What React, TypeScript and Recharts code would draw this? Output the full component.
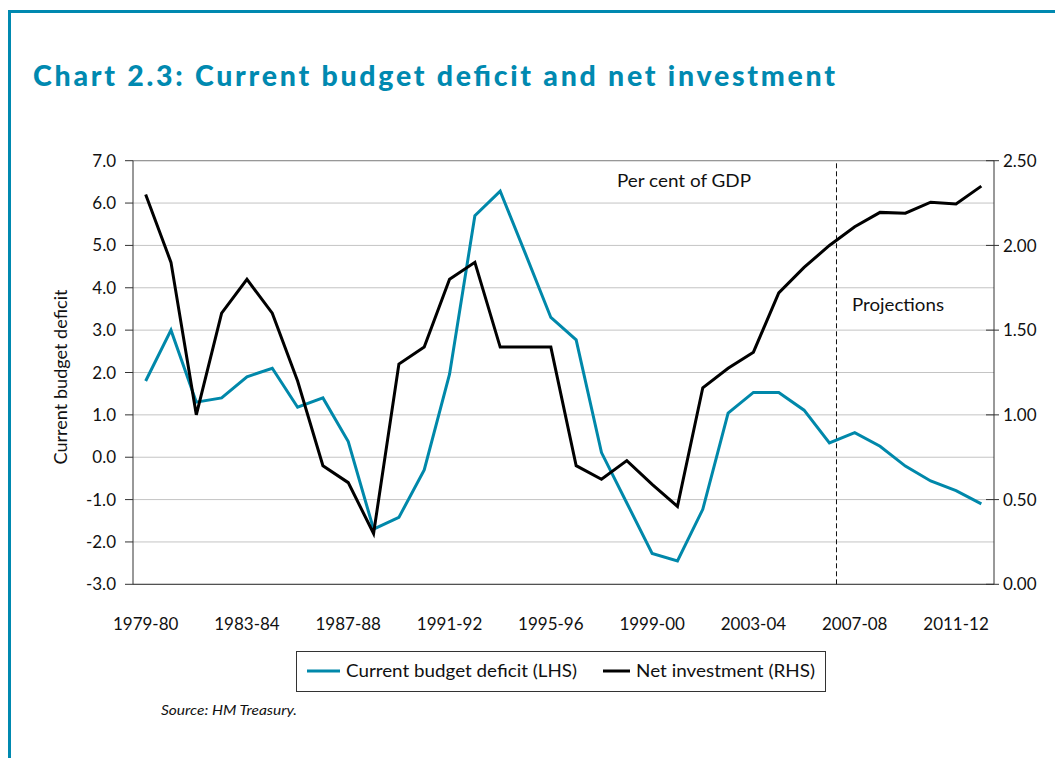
import React from 'react';
import { ComposedChart, Line, XAxis, YAxis, CartesianGrid, ReferenceLine } from 'recharts';

const categories = [
  '1979-80', '1980-81', '1981-82', '1982-83', '1983-84', '1984-85', '1985-86', '1986-87',
  '1987-88', '1988-89', '1989-90', '1990-91', '1991-92', '1992-93', '1993-94', '1994-95',
  '1995-96', '1996-97', '1997-98', '1998-99', '1999-00', '2000-01', '2001-02', '2002-03',
  '2003-04', '2004-05', '2005-06', '2006-07', '2007-08', '2008-09', '2009-10', '2010-11',
  '2011-12', '2012-13',
];

const currentBudgetDeficit = [
  1.8, 3.0, 1.3, 1.4, 1.9, 2.1, 1.18, 1.4, 0.37, -1.7, -1.42, -0.3, 1.96, 5.7, 6.28, 4.8,
  3.3, 2.77, 0.11, -1.08, -2.27, -2.45, -1.23, 1.04, 1.53, 1.53, 1.11, 0.34, 0.58, 0.26,
  -0.21, -0.56, -0.79, -1.1,
];

const netInvestment = [
  2.3, 1.9, 1.0, 1.6, 1.8, 1.6, 1.2, 0.7, 0.6, 0.3, 1.3, 1.4, 1.8, 1.9, 1.4, 1.4,
  1.4, 0.7, 0.62, 0.73, 0.59, 0.46, 1.16, 1.275, 1.37, 1.72, 1.87, 2.0, 2.11, 2.195,
  2.19, 2.255, 2.245, 2.35,
];

const xTickLabels = ['1979-80', '1983-84', '1987-88', '1991-92', '1995-96', '1999-00', '2003-04', '2007-08', '2011-12'];
const leftTicks = [-3, -2, -1, 0, 1, 2, 3, 4, 5, 6, 7];
const rightTicks = [0, 0.5, 1.0, 1.5, 2.0, 2.5];
const projectionBoundary = 27.28; // position on the year axis where projections begin

const data = categories.map((c, i) => ({
  idx: i,
  year: c,
  cbd: currentBudgetDeficit[i],
  ni: netInvestment[i],
}));
const xTickPositions = xTickLabels.map((l) => categories.indexOf(l));

const TEAL = '#0089B0';
const LINE_BLUE = '#0088AA';
const FONT = 'Lato, "Open Sans", sans-serif';

const RightTick = (props: any) => {
  const { x, y, payload } = props;
  return (
    <g>
      <line x1={x - 8} x2={x + 5} y1={y} y2={y} stroke="#333" strokeWidth={1} />
      <text x={x + 9} y={y} dy="0.36em" textAnchor="start" fontSize={17} fontFamily={FONT} fill="#111">
        {Number(payload.value).toFixed(2)}
      </text>
    </g>
  );
};

export default function App() {
  return (
    <div style={{ position: 'absolute', left: 0, top: 0, width: 1055, height: 758, background: '#fff', overflow: 'hidden' }}>
      <div
        style={{
          position: 'absolute',
          left: 8,
          top: 10,
          width: 1047,
          height: 748,
          borderTop: `3px solid ${TEAL}`,
          borderLeft: `3px solid ${TEAL}`,
          boxSizing: 'border-box',
        }}
      />
      <div style={{ position: 'absolute', left: 0, top: 0 }}>
        <ComposedChart
          width={1055}
          height={758}
          data={data}
          margin={{ top: 160.7, right: 6, bottom: 143.7, left: 83 }}
          style={{ fontFamily: FONT }}
        >
          <CartesianGrid yAxisId="left" vertical={false} stroke="#c4c4c4" strokeWidth={1} />
          <XAxis
            dataKey="idx"
            type="number"
            domain={[-0.5, 33.5]}
            ticks={xTickPositions}
            tickFormatter={(v: number) => categories[v]}
            interval={0}
            height={30}
            tickLine={false}
            tickSize={0}
            tickMargin={34}
            axisLine={{ stroke: '#333', strokeWidth: 1 }}
            tick={{ fontSize: 17, fill: '#111', fontFamily: FONT }}
          />
          <YAxis
            yAxisId="left"
            orientation="left"
            width={50}
            domain={[-3, 7]}
            ticks={leftTicks}
            interval={0}
            tickFormatter={(v: number) => v.toFixed(1)}
            tickSize={8}
            tickMargin={9}
            tickLine={{ stroke: '#333' }}
            axisLine={{ stroke: '#333', strokeWidth: 1 }}
            tick={{ fontSize: 17, fill: '#111', fontFamily: FONT }}
            allowDataOverflow
          />
          <YAxis
            yAxisId="right"
            orientation="right"
            width={55}
            domain={[0, 2.5]}
            ticks={rightTicks}
            interval={0}
            tickSize={0}
            tickMargin={0}
            tickLine={false}
            axisLine={{ stroke: '#333', strokeWidth: 1 }}
            tick={<RightTick />}
            allowDataOverflow
          />
          <ReferenceLine yAxisId="left" y={7} stroke="#8c8c8c" strokeWidth={1} />
          <ReferenceLine
            yAxisId="left"
            x={projectionBoundary}
            stroke="#111"
            strokeWidth={1}
            strokeDasharray="5 3"
          />
          <Line
            yAxisId="left"
            dataKey="cbd"
            name="Current budget deficit (LHS)"
            stroke={LINE_BLUE}
            strokeWidth={3}
            dot={false}
            activeDot={false}
            isAnimationActive={false}
            strokeLinejoin="miter"
          />
          <Line
            yAxisId="right"
            dataKey="ni"
            name="Net investment (RHS)"
            stroke="#000"
            strokeWidth={3}
            dot={false}
            activeDot={false}
            isAnimationActive={false}
            strokeLinejoin="miter"
          />
        </ComposedChart>
      </div>
      <svg
        width={1055}
        height={758}
        style={{ position: 'absolute', left: 0, top: 0, pointerEvents: 'none' }}
        fontFamily={FONT}
      >
        <text x={33} y={86} fontSize={28.5} fontWeight={900} fill={TEAL} textLength={802} lengthAdjust="spacing">
          Chart 2.3: Current budget deficit and net investment
        </text>
        <text x={617} y={187} fontSize={17} fill="#111" textLength={134} lengthAdjust="spacingAndGlyphs">
          Per cent of GDP
        </text>
        <text x={852} y={311} fontSize={17} fill="#111" textLength={92} lengthAdjust="spacingAndGlyphs">
          Projections
        </text>
        <text
          transform="translate(67,377) rotate(-90)"
          textAnchor="middle"
          fontSize={18}
          fill="#111"
          textLength={175}
          lengthAdjust="spacingAndGlyphs"
        >
          Current budget deficit
        </text>
        <rect x={296.5} y={651.5} width={529} height={40} fill="none" stroke="#333" strokeWidth={1} />
        <line x1={307} x2={340} y1={671} y2={671} stroke={LINE_BLUE} strokeWidth={3} />
        <text x={346} y={677} fontSize={17} fill="#111" textLength={231} lengthAdjust="spacingAndGlyphs">
          Current budget deficit (LHS)
        </text>
        <line x1={603} x2={630} y1={671} y2={671} stroke="#000" strokeWidth={3} />
        <text x={636} y={677} fontSize={17} fill="#111" textLength={179} lengthAdjust="spacingAndGlyphs">
          Net investment (RHS)
        </text>
        <text x={161} y={715} fontSize={12.5} fontStyle="italic" fill="#111" textLength={136} lengthAdjust="spacingAndGlyphs">
          Source: HM Treasury.
        </text>
      </svg>
    </div>
  );
}
